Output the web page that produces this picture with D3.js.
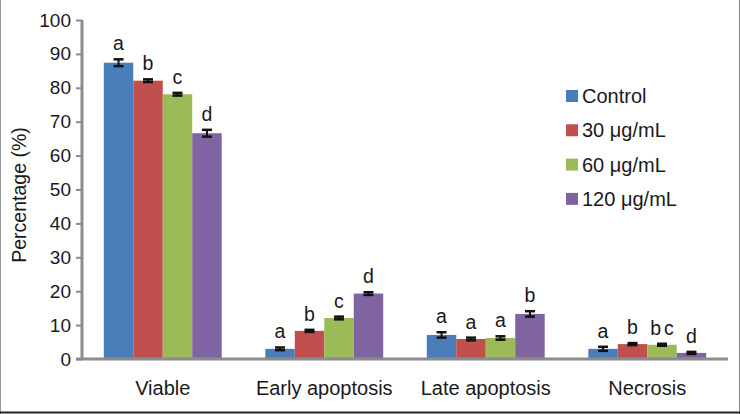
<!DOCTYPE html>
<html><head><meta charset="utf-8">
<script src="https://cdn.jsdelivr.net/npm/d3@7/dist/d3.min.js"></script>
<style>body{margin:0;background:#fff}svg{display:block}text{font-family:"Liberation Sans",Arial,sans-serif;fill:#1a1a1a}</style>
</head><body><svg id="c" width="740" height="414"></svg>
<script>
const categories = ["Viable","Early apoptosis","Late apoptosis","Necrosis"];
const series = ["Control","30 μg/mL","60 μg/mL","120 μg/mL"];
const colors = ["#4a7ebb","#c0504d","#9bbb59","#8064a2"];
const values = [
  [87.4, 3.0, 7.1, 3.0],
  [82.1, 8.3, 5.9, 4.4],
  [78.1, 12.1, 6.2, 4.2],
  [66.6, 19.3, 13.3, 1.8]
];
const errors = [
  [1.0, 0.4, 0.8, 0.6],
  [0.4, 0.3, 0.4, 0.3],
  [0.4, 0.4, 0.5, 0.3],
  [1.0, 0.4, 0.8, 0.3]
];
const letters = [
  ["a","a","a","a"],
  ["b","b","a","b"],
  ["c","c","a","bc"],
  ["d","d","b","d"]
];
const yTicks = [0,10,20,30,40,50,60,70,80,90,100];

const svg = d3.select("#c");
const x0 = 82, x1 = 728, yb = 359, yt = 20;
const y = d3.scaleLinear().domain([0,100]).range([yb,yt]);
const xg = d3.scaleBand().domain(categories).range([x0,x1]).paddingInner(0.27).paddingOuter(0.135);
const xs = d3.scaleBand().domain(d3.range(series.length)).range([0,xg.bandwidth()]);

// border
svg.append("line").attr("x1",0.5).attr("x2",0.5).attr("y1",0).attr("y2",414).attr("stroke","#999");
svg.append("line").attr("x1",739.5).attr("x2",739.5).attr("y1",0).attr("y2",414).attr("stroke","#888");
svg.append("line").attr("x1",0).attr("x2",740).attr("y1",412.5).attr("y2",412.5).attr("stroke","#222").attr("stroke-width",2);

// bars
categories.forEach((c,ci)=>{
  series.forEach((s,si)=>{
    const v = values[si][ci], e = errors[si][ci];
    const bx = xg(c)+xs(si), bw = xs.bandwidth();
    svg.append("rect").attr("x",bx).attr("y",y(v)).attr("width",bw).attr("height",yb-y(v)).attr("fill",colors[si]);
    const cx = bx+bw/2;
    svg.append("line").attr("x1",cx).attr("x2",cx).attr("y1",y(v+e)).attr("y2",y(v-e)).attr("stroke","#111").attr("stroke-width",2);
    [v+e,v-e].forEach(t=>svg.append("line").attr("x1",cx-5).attr("x2",cx+5).attr("y1",y(t)).attr("y2",y(t)).attr("stroke","#111").attr("stroke-width",2.5));
    const lab = letters[si][ci];
    svg.append("text").attr("x",cx + (lab.length>1?1.5:0)).attr("y",y(v+e)-9).attr("text-anchor","middle")
      .attr("font-size",19.5).attr("letter-spacing",lab.length>1?3:0).text(lab);
  });
});

// y axis
const ya = svg.append("g").attr("transform",`translate(${x0},0)`)
  .call(d3.axisLeft(y).tickValues(yTicks).tickSize(6).tickPadding(5));
ya.select(".domain").attr("stroke","#8c8c8c").attr("stroke-width",3).attr("d",`M0,${yt}V${yb}`);
ya.selectAll(".tick line").attr("stroke","#8c8c8c").attr("stroke-width",2);
ya.selectAll(".tick text").attr("font-size",19).attr("font-family","Liberation Sans, Arial, sans-serif").attr("fill","#1a1a1a");

// x axis
const xa = svg.append("g").attr("transform",`translate(0,${yb})`).call(d3.axisBottom(xg).tickSize(0).tickPadding(22));
xa.select(".domain").attr("stroke","#8c8c8c").attr("stroke-width",3).attr("d",`M${x0-6},0H${x1}`);
xa.selectAll(".tick text").attr("font-size",20).attr("font-family","Liberation Sans, Arial, sans-serif").attr("fill","#1a1a1a");

// y label
svg.append("text").attr("transform","translate(26,195) rotate(-90)").attr("text-anchor","middle").attr("font-size",19.5).text("Percentage (%)");

// legend
series.forEach((s,i)=>{
  const ly = 96 + i*34.3;
  svg.append("rect").attr("x",566).attr("y",ly-6).attr("width",12).attr("height",12).attr("fill",colors[i]);
  svg.append("text").attr("x",582).attr("y",ly+7).attr("font-size",20).text(s);
});
</script></body></html>
